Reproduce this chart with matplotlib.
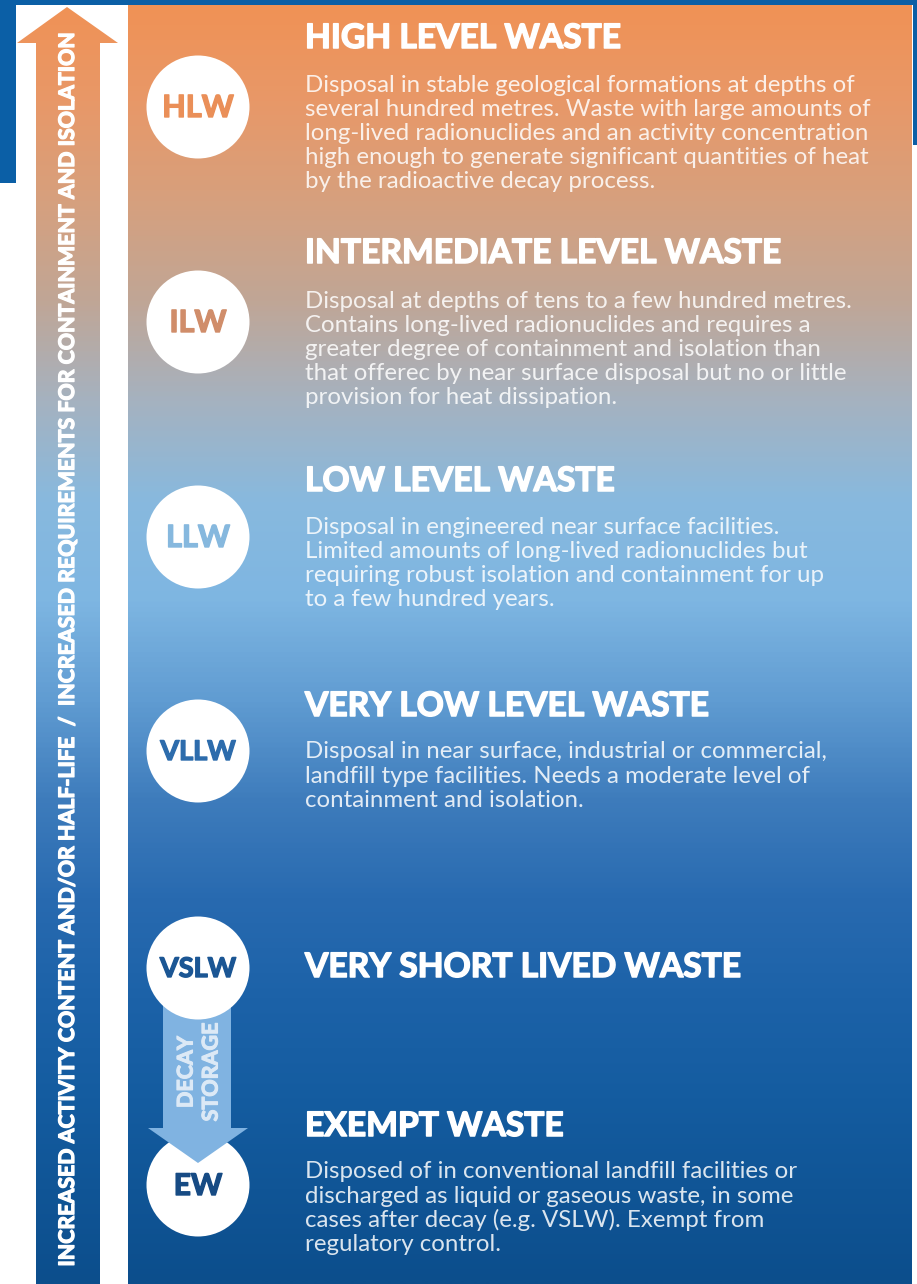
import matplotlib
matplotlib.use('Agg')
import matplotlib.pyplot as plt
import matplotlib.patheffects as pe
import numpy as np
from matplotlib.colors import LinearSegmentedColormap
from matplotlib.patches import Circle, Polygon, Rectangle

W, H = 917, 1284

# ---------------- data ----------------
abbrevs = ['HLW', 'ILW', 'LLW', 'VLLW', 'VSLW', 'EW']
titles = ['HIGH LEVEL WASTE', 'INTERMEDIATE LEVEL WASTE', 'LOW LEVEL WASTE',
          'VERY LOW LEVEL WASTE', 'VERY SHORT LIVED WASTE', 'EXEMPT WASTE']
descriptions = [
    ['Disposal in stable geological formations at depths of',
     'several hundred metres. Waste with large amounts of',
     'long-lived radionuclides and an activity concentration',
     'high enough to generate significant quantities of heat',
     'by the radioactive decay process.'],
    ['Disposal at depths of tens to a few hundred metres.',
     'Contains long-lived radionuclides and requires a',
     'greater degree of containment and isolation than',
     'that offerec by near surface disposal but no or little',
     'provision for heat dissipation.'],
    ['Disposal in engineered near surface facilities.',
     'Limited amounts of long-lived radionuclides but',
     'requiring robust isolation and containment for up',
     'to a few hundred years.'],
    ['Disposal in near surface, industrial or commercial,',
     'landfill type facilities. Needs a moderate level of',
     'containment and isolation.'],
    [],
    ['Disposed of in conventional landfill facilities or',
     'discharged as liquid or gaseous waste, in some',
     'cases after decay (e.g. VSLW). Exempt from',
     'regulatory control.'],
]
arrow_label = ('INCREASED ACTIVITY CONTENT AND/OR HALF-LIFE  /  '
               'INCREASED REQUIREMENTS FOR CONTAINMENT AND ISOLATION')
decay_label = ['DECAY', 'STORAGE']

# ---------------- layout / style ----------------
circle_y = [107, 322, 537, 751, 968, 1185]
title_y = [38, 253, 481, 706, 967, 1126]
body_y0 = [85, 301, 527, 752, None, 1172]
line_step = 24.2
abbrev_colors = ['#ea8f58', '#d08d6a', '#86b8de', '#2d6cac', '#1b5694', '#174b84']
abbrev_sizes = [22, 22, 22, 19.5, 19.5, 21.5]
grad_pos = [0, 5, 100, 200, 300, 400, 500, 600, 700, 800, 900, 1000, 1100, 1284]
grad_col = ['#f09256', '#f09256', '#e89868', '#d6a07e', '#c0a696', '#a5b2c0',
            '#88b9de', '#7eb6e2', '#609cd2', '#3e7cbc', '#286ab0', '#1c62a8',
            '#145ca0', '#0c4e8c']
blue_frame = '#0b5fa6'
font = 'Lato'
heavy = 'bold'


def thick(color, w=0.9):
    return [pe.withStroke(linewidth=w, foreground=color)]


cmap = LinearSegmentedColormap.from_list(
    'grad', [(p / H, c) for p, c in zip(grad_pos, grad_col)])

fig = plt.figure(figsize=(W / 100, H / 100), dpi=100)
ax = fig.add_axes([0, 0, 1, 1])
ax.set_xlim(0, W)
ax.set_ylim(H, 0)
ax.axis('off')
fig.patch.set_facecolor('white')

grad = np.linspace(0, 1, 1024).reshape(-1, 1)

# main panel
px0, px1, py0 = 128, 912, 5
im = ax.imshow(grad, cmap=cmap, extent=(px0, px1, H, 0), origin='upper',
               aspect='auto', zorder=1, interpolation='bilinear')
clip_rect = Rectangle((px0, py0), px1 - px0, H - py0, transform=ax.transData)
im.set_clip_path(clip_rect)

# big vertical arrow
arrow_poly = Polygon([(36, H), (36, 43), (17, 43), (67, 7), (118, 43),
                      (100, 43), (100, H)], closed=True, transform=ax.transData)
im2 = ax.imshow(grad, cmap=cmap, extent=(0, 120, H, 0), origin='upper',
                aspect='auto', zorder=1, interpolation='bilinear')
im2.set_clip_path(arrow_poly)

# blue frame pieces
ax.add_patch(Rectangle((0, 0), W, 5, color=blue_frame, zorder=3, lw=0))
ax.add_patch(Rectangle((0, 0), 16, 183, color=blue_frame, zorder=3, lw=0))
ax.add_patch(Rectangle((913, 0), 4, 145, color=blue_frame, zorder=3, lw=0))

fig.canvas.draw()
renderer = fig.canvas.get_renderer()


def fit_size(text, target_px, **kw):
    t = ax.text(0, 0, text, fontsize=20, **kw)
    w = t.get_window_extent(renderer).width
    t.remove()
    return 20 * target_px / w


title_fs = fit_size('INTERMEDIATE LEVEL WASTE', 476, family=font, weight=heavy)
body_fs = fit_size('long-lived radionuclides and an activity concentration', 565,
                   family=font)
arrow_fs = fit_size(arrow_label, 1234, family=font, weight=heavy)

# decay storage arrow (behind VSLW circle, head over EW circle)
decay_poly = Polygon([(163, 1000), (163, 1128), (148, 1128), (198, 1163),
                      (248, 1128), (231, 1128), (231, 1000)], closed=True,
                     facecolor='#80b3e1', edgecolor='none', zorder=5)
ax.add_patch(decay_poly)
for i, lab in enumerate(decay_label):
    ax.text(186 + i * 25, 1072, lab, rotation=90, ha='center', va='center',
            fontsize=15.5, family=font, weight=heavy, color='#dce9f6', zorder=6,
            path_effects=thick('#dce9f6', 0.8))

# circles and abbreviations
for i, (ab, cy, col, fs) in enumerate(zip(abbrevs, circle_y, abbrev_colors,
                                          abbrev_sizes)):
    cz = 4 if ab == 'EW' else 7
    ax.add_patch(Circle((198, cy), 51.5, facecolor='white', edgecolor='none',
                        zorder=cz))
    ax.text(198, cy + 1, ab, ha='center', va='center', fontsize=fs,
            family=font, weight=heavy, color=col, zorder=8,
            path_effects=thick(col, 1.0))

# titles and descriptions
for i, (t, ty, lines, by) in enumerate(zip(titles, title_y, descriptions, body_y0)):
    ax.text(305, ty, t, ha='left', va='center', fontsize=title_fs,
            family=font, weight=heavy, color='white', zorder=8,
            path_effects=thick('white', 1.1))
    if by is not None:
        for k, ln in enumerate(lines):
            ax.text(305, by + k * line_step, ln, ha='left', va='center',
                    fontsize=body_fs, family=font, color='white', alpha=0.85,
                    zorder=8)

# arrow label
ax.text(68, 647, arrow_label, rotation=90, ha='center', va='center',
        fontsize=arrow_fs, family=font, weight=heavy, color='white', zorder=8,
        path_effects=thick('white', 0.9))

fig.savefig('out.png', dpi=100, facecolor='white')
